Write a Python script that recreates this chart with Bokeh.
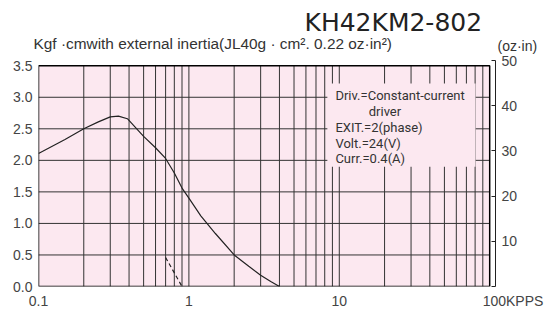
from bokeh.plotting import figure
from bokeh.models import Range1d, LinearAxis, FixedTicker, Label, PrintfTickFormatter, Title
from bokeh.embed import file_html
from bokeh.resources import INLINE

# ---------------- data ----------------
title_text = "KH42KM2-802"
subtitle_text = "Kgf ·cmwith external inertia(JL40g · cm². 0.22  oz·in²)"
right_unit = "(oz·in)"

speed_kpps = [0.1, 0.15, 0.2, 0.25, 0.3, 0.34, 0.39, 0.43, 0.5, 0.6, 0.7, 0.8,
              0.9, 1.0, 1.2, 1.5, 2.0, 2.5, 3.0, 3.5, 4.0]
torque_kgfcm = [2.11, 2.33, 2.50, 2.61, 2.69, 2.70, 2.66, 2.55, 2.38, 2.20, 2.03, 1.80,
                1.56, 1.40, 1.12, 0.84, 0.50, 0.32, 0.18, 0.08, 0.0]

pullin_speed = [0.70, 0.90]
pullin_torque = [0.46, 0.0]

x_label_ticks = [0.1, 1, 10, 100]
x_label_text = ["0.1", "1", "10", "\u00a0" * 12 + "100KPPS"]
x_grid = [0.2, 0.3, 0.4, 0.5, 0.6, 0.7, 0.8, 0.9, 1, 2, 3, 4, 5, 6, 7, 8, 9, 10,
          20, 30, 40, 50, 60, 70, 80, 90]
y_ticks = [0.0, 0.5, 1.0, 1.5, 2.0, 2.5, 3.0, 3.5]
y_grid = [0.5, 1.0, 1.5, 2.0, 2.5, 3.0]
oz_ticks = [0, 10, 20, 30, 40, 50]

driver_notes = ["Driv.=Constant-current", "driver", "EXIT.=2(phase)",
                "Volt.=24(V)", "Curr.=0.4(A)"]

# ---------------- layout constants ----------------
XMIN, XMAX = 0.1, 100.0
YMIN, YMAX = 0.0, 3.5
PINK = "#fce8f0"
INK = "#222222"
LABEL = "#444444"

p = figure(width=547, height=311, x_axis_type="log", title=None,
           x_range=Range1d(0.1, 109.3), y_range=Range1d(0.0, 3.583),
           output_backend="svg", toolbar_location=None,
           min_border_left=38, min_border_right=52, min_border_top=60,
           min_border_bottom=23)
p.outline_line_color = None
p.grid.visible = False
p.background_fill_color = "white"
p.border_fill_color = "white"

# panels above the chart
p.add_layout(Label(x=459, y=15, x_units="screen", y_units="screen", text=right_unit,
                   text_align="left", text_baseline="middle",
                   text_font="Liberation Sans", text_font_size="14px",
                   text_color="#333333"), "above")
p.add_layout(Title(text=subtitle_text, align="left", offset=-5, standoff=-15,
                   text_font="Liberation Sans", text_font_size="15.4px",
                   text_font_style="normal", text_color="#333333"), "above")
p.add_layout(Title(text=title_text, align="left", offset=266, standoff=8,
                   text_font="DejaVu Sans", text_font_size="25px",
                   text_font_style="normal", text_color=INK), "above")

# bottom axis
xa = p.xaxis[0]
xa.ticker = FixedTicker(ticks=x_label_ticks)
xa.major_label_overrides = {t: s for t, s in zip(x_label_ticks, x_label_text)}
xa.axis_line_color = None
xa.major_tick_line_color = None
xa.minor_tick_line_color = None
xa.major_label_standoff = 0
xa.major_label_text_font = "Liberation Sans"
xa.major_label_text_font_size = "14px"
xa.major_label_text_color = LABEL

# left axis
ya = p.yaxis[0]
ya.ticker = FixedTicker(ticks=y_ticks)
ya.formatter = PrintfTickFormatter(format="%.1f")
ya.axis_line_color = None
ya.major_tick_line_color = None
ya.minor_tick_line_color = None
ya.major_label_standoff = 0
ya.major_label_text_font = "Liberation Sans"
ya.major_label_text_font_size = "14px"
ya.major_label_text_color = LABEL

# right axis in oz-in
p.extra_y_ranges = {"oz": Range1d(0, 50)}
ra = LinearAxis(y_range_name="oz", ticker=FixedTicker(ticks=oz_ticks),
                major_label_overrides={0: ""})
ra.major_tick_in = 4
ra.major_tick_out = 0
ra.minor_tick_line_color = None
ra.axis_line_color = INK
ra.major_tick_line_color = INK
ra.major_label_standoff = 6
ra.major_label_text_font = "Liberation Sans"
ra.major_label_text_font_size = "14px"
ra.major_label_text_color = LABEL
p.add_layout(ra, "right")

# background of the chart area
p.quad(left=[XMIN], right=[XMAX], bottom=[YMIN], top=[YMAX],
       fill_color=PINK, line_color=None)

# grid
p.segment(x0=x_grid, x1=x_grid, y0=[YMIN] * len(x_grid), y1=[YMAX] * len(x_grid),
          line_color="#333333", line_width=1)
p.segment(x0=[XMIN] * len(y_grid), x1=[XMAX] * len(y_grid), y0=y_grid, y1=y_grid,
          line_color="#333333", line_width=1)

# note box covering grid
p.quad(left=[8.33], right=[80.5], bottom=[1.897], top=[3.217],
       fill_color=PINK, line_color=None)

# curves
p.line(speed_kpps, torque_kgfcm, line_color=INK, line_width=1.2)
p.line(pullin_speed, pullin_torque, line_color=INK, line_width=1.2, line_dash="4 3")

# outline
p.quad(left=[XMIN], right=[XMAX], bottom=[YMIN], top=[YMAX],
       fill_color=None, line_color="black", line_width=1.5)

note_x = [9.42, 15.7, 9.42, 9.42, 9.42]
note_y = [3.029, 2.777, 2.526, 2.274, 2.023]
for t, nx, ny in zip(driver_notes, note_x, note_y):
    p.add_layout(Label(x=nx, y=ny, text=t, text_align="left", text_baseline="middle",
                       text_font="Roboto", text_font_size="13px",
                       text_color="#333333"))

open("out.html", "w").write(file_html(p, INLINE))
